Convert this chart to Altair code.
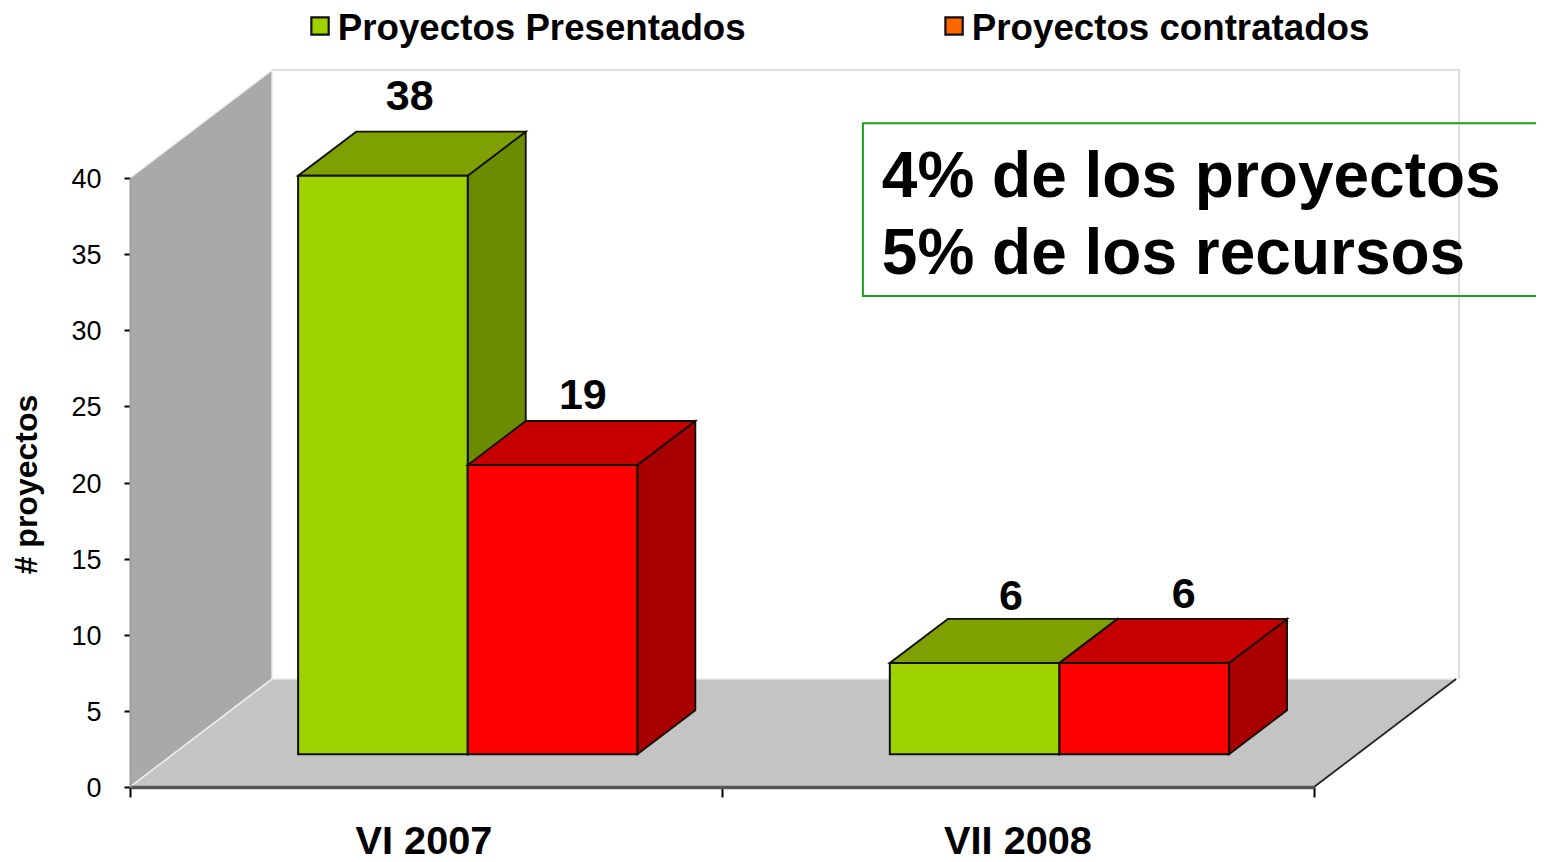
import altair as alt
import pandas as pd

categories = ["VI 2007", "VII 2008"]
series = ["Proyectos Presentados", "Proyectos contratados"]
presentados = [38, 6]
contratados = [19, 6]
y_ticks = [0, 5, 10, 15, 20, 25, 30, 35, 40]
note_lines = ["4% de los proyectos", "5% de los recursos"]

FONT = "Liberation Sans"
BAR_W = 0.2865
DX, DY = 0.098, 2.89        # bar depth, in axis units
WALL_DX, WALL_DY = 0.24, 7.09
BASE = 2.15
GREEN = ("#9fd300", "#7ea000", "#6c8c00")
RED = ("#ff0000", "#c60000", "#a80000")
EDGE = "#101000"

X = alt.X("x:Q", scale=alt.Scale(domain=[0, 2], nice=False, zero=False),
          axis=alt.Axis(values=[0, 1, 2], labels=False, title=None, grid=False, tickSize=10, tickWidth=2,
                        tickColor="#000000", domainColor="#555555", domainWidth=3.5, zindex=1))
Y = alt.Y("y:Q", scale=alt.Scale(domain=[0, 40], nice=False, zero=False),
          axis=alt.Axis(values=y_ticks, grid=False, tickSize=6, tickWidth=2, tickColor="#000000",
                        domainColor="#a0a0a0", domainWidth=2, labelFont=FONT, labelFontSize=27,
                        labelColor="#000000", labelPadding=23, labelOffset=1.5, title="# proyectos",
                        titleFont=FONT, titleFontSize=32, titleFontWeight="bold", titleColor="#000000",
                        titleX=-104, titleY=306, titleAngle=270, titleAlign="center",
                        titleBaseline="middle", zindex=1))
Xp = alt.X("x:Q")
Yp = alt.Y("y:Q")


def vside(rows, fill, stroke, sw=1.8):
    """Face whose two ends are vertical."""
    return alt.Chart(pd.DataFrame(rows, columns=["x", "y", "y2"])).mark_area(
        fill=fill, stroke=stroke, strokeWidth=sw, opacity=1
    ).encode(x=Xp, y=Yp, y2="y2:Q")


def hside(rows, fill, stroke, sw=1.8):
    """Face whose two ends are horizontal."""
    return alt.Chart(pd.DataFrame(rows, columns=["y", "x", "x2"])).mark_area(
        orient="horizontal", fill=fill, stroke=stroke, strokeWidth=sw, opacity=1
    ).encode(y=Yp, x=Xp, x2="x2:Q")


def path(points, color, sw):
    df = pd.DataFrame(points, columns=["x", "y"]).assign(o=range(len(points)))
    return alt.Chart(df).mark_line(color=color, strokeWidth=sw).encode(x=Xp, y=Yp, order="o:O")


def text(rows, size, bold=True, align="center"):
    df = pd.DataFrame(rows, columns=["x", "y", "t"])
    return alt.Chart(df).mark_text(font=FONT, fontSize=size, fontWeight="bold" if bold else "normal",
                                   color="#000000", align=align, baseline="middle").encode(
        x=Xp, y=Yp, text="t:N")


# anchor layer carrying the real axes
layers = [alt.Chart(pd.DataFrame({"x": [0, 2], "y": [0, 40]})).mark_point(opacity=0).encode(x=X, y=Y)]

# walls and floor
layers.append(vside([(0, 0, 40), (WALL_DX, WALL_DY, 40 + WALL_DY)], "#a9a9a9", "#ececec", 1.5))
layers.append(hside([(0, 0, 2), (WALL_DY, WALL_DX, 2 + WALL_DX)], "#c4c4c4", "#ececec", 1.5))
layers.append(path([(WALL_DX, 40 + WALL_DY), (2.245, 40 + WALL_DY), (2.245, WALL_DY)], "#d4d4d4", 1.5))
layers.append(path([(2, 0), (2 + WALL_DX, WALL_DY)], "#222222", 1.8))

# 3D bars
starts = [(0.284, 1.2835), (0.5705, 1.57)]
for vals, x0s, (front, top, side) in zip([presentados, contratados], starts, [GREEN, RED]):
    for v, x0 in zip(vals, x0s):
        x1 = x0 + BAR_W
        t = BASE + v
        layers.append(vside([(x1, BASE, t), (x1 + DX, BASE + DY, t + DY)], side, EDGE))
        layers.append(hside([(t, x0, x1), (t + DY, x0 + DX, x1 + DX)], top, EDGE))
        front_df = pd.DataFrame({"x": [x0], "x2": [x1], "y": [BASE], "y2": [t]})
        layers.append(alt.Chart(front_df).mark_rect(fill=front, stroke=EDGE, strokeWidth=2, opacity=1)
                      .encode(x=Xp, x2="x2:Q", y=Yp, y2="y2:Q"))

# value labels
layers.append(text([(0.4725, 45.29, str(presentados[0])), (0.765, 25.67, str(contratados[0])),
                    (1.488, 12.47, str(presentados[1])), (1.78, 12.6, str(contratados[1]))], 43))

# category labels
layers.append(text([(0.4966, -3.62, categories[0]), (1.5, -3.62, categories[1])], 39.7))

# legend
swatch = pd.DataFrame({"x": [0.321, 1.392], "y": [49.98, 49.98], "c": ["#9fd300", "#ff6600"]})
layers.append(alt.Chart(swatch).mark_square(size=300, stroke="#101010", strokeWidth=2.2, opacity=1)
              .encode(x=Xp, y=Yp, fill=alt.Fill("c:N", scale=None)))
layers.append(text([(0.351, 49.8, series[0]), (1.422, 49.8, series[1])], 36.7, align="left"))

# note box
box = pd.DataFrame({"x": [1.238], "x2": [2.5], "y": [32.25], "y2": [43.6]})
layers.append(alt.Chart(box).mark_rect(fill=None, stroke="#1ca01c", strokeWidth=2).encode(
    x=Xp, x2="x2:Q", y=Yp, y2="y2:Q"))
layers.append(text([(1.27, 39.97, note_lines[0]), (1.27, 34.95, note_lines[1])], 64, align="left"))

chart = alt.layer(*layers).properties(
    width=1184, height=609,
    autosize=alt.AutoSizeParams(type="none"),
    padding={"left": 122, "top": 170, "right": 222, "bottom": 75},
    background="white",
).configure_view(stroke=None)

chart.save("out.html", embed_options={"renderer": "svg", "actions": False})
